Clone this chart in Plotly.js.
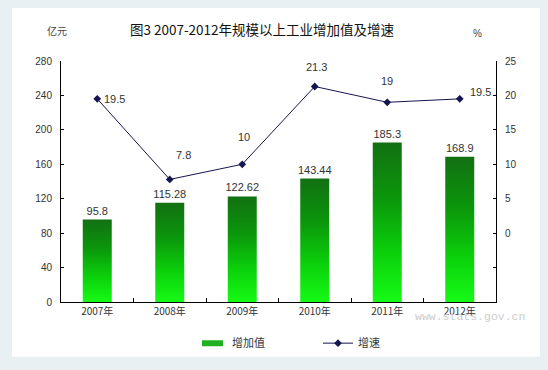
<!DOCTYPE html>
<html>
<head>
<meta charset="utf-8">
<script src="https://cdn.plot.ly/plotly-3.0.1.min.js"></script>
<style>html,body{margin:0;padding:0;background:#e9f0f4;}</style>
</head>
<body>
<div id="chart" style="width:548px;height:370px;"></div>
<script>
// ---- data ----
const years = ['2007年', '2008年', '2009年', '2010年', '2011年', '2012年'];
const addedValue = [95.8, 115.28, 122.62, 143.44, 185.3, 168.9];   // 增加值 (亿元)
const growthRate = [19.5, 7.8, 10, 21.3, 19, 19.5];                // 增速 (%)
const addedValueText = ['95.8', '115.28', '122.62', '143.44', '185.3', '168.9'];
const growthText = ['19.5', '7.8', '10', '21.3', '19', '19.5'];
const leftTicks = [0, 40, 80, 120, 160, 200, 240, 280];
const rightTickVals = [-10, -5, 0, 5, 10, 15, 20, 25];
const rightTickText = ['', '', '0', '5', '10', '15', '20', '25'];

// label offsets for growth labels (styling only)
const gxs = [17, 14, 2, 2, 0, 21];
const gys = [0, 24, 27, 19, 21, 7];

const FONT = 'Arial, "Liberation Sans", "Noto Sans CJK SC", sans-serif';
const CJK = '"Noto Sans CJK SC", "Liberation Sans", sans-serif';

const traces = [
  {
    type: 'bar', name: '增加值', x: years, y: addedValue,
    text: addedValueText, textposition: 'outside', cliponaxis: false,
    constraintext: 'none',
    textfont: {family: FONT, size: 11, color: '#333333'},
    marker: {color: '#22b022', line: {width: 0}},
    width: 0.4, hoverinfo: 'none'
  },
  {
    type: 'scatter', mode: 'lines+markers', name: '增速', x: years, y: growthRate,
    yaxis: 'y2', line: {color: '#15154f', width: 1},
    marker: {symbol: 'diamond', size: 6, color: '#15154f'},
    hoverinfo: 'none'
  }
];

const annotations = growthRate.map((v, i) => ({
  x: years[i], y: v, xref: 'x', yref: 'y2', text: growthText[i],
  showarrow: false, xshift: gxs[i], yshift: gys[i],
  font: {family: FONT, size: 11, color: '#333333'}
}));
annotations.push({
  xref: 'paper', yref: 'paper', x: (57 - 61) / 435, y: (307 - 30) / 246, xanchor: 'center', yanchor: 'middle',
  text: '亿元', showarrow: false, font: {family: CJK, size: 10, color: '#444444'}
});
annotations.push({
  xref: 'paper', yref: 'paper', x: (477 - 61) / 435, y: (307 - 33) / 246, xanchor: 'center', yanchor: 'middle',
  text: '%', showarrow: false, font: {family: FONT, size: 10, color: '#444444'}
});
annotations.push({
  xref: 'paper', yref: 'paper', x: (470 - 61) / 435, y: (307 - 322) / 246, xanchor: 'center', yanchor: 'middle',
  text: 'www.stats.gov.cn', showarrow: false,
  font: {family: '"Liberation Mono", "DejaVu Sans Mono", monospace', size: 11.5, color: '#cccccc'}
});

const layout = {
  width: 548, height: 370,
  margin: {l: 61, r: 52, t: 61, b: 63},
  paper_bgcolor: '#e9f0f4',
  plot_bgcolor: 'rgba(0,0,0,0)',
  font: {family: FONT, size: 10, color: '#333333'},
  title: {
    text: '图3 2007-2012年规模以上工业增加值及增速',
    x: 262 / 548, xref: 'container', xanchor: 'center',
    y: 1 - 30 / 370, yref: 'container', yanchor: 'middle',
    font: {family: CJK, size: 13.5, color: '#111111'}
  },
  showlegend: true,
  legend: {
    orientation: 'h', x: (192 - 61) / 435, xanchor: 'left',
    y: (307 - 349) / 246, yanchor: 'middle',
    entrywidth: 81, entrywidthmode: 'pixels',
    font: {family: CJK, size: 11, color: '#333333'},
    bgcolor: 'rgba(0,0,0,0)'
  },
  bargap: 0.6,
  xaxis: {
    type: 'category', showline: true, linecolor: '#000000', linewidth: 1,
    ticks: 'inside', tickson: 'boundaries', ticklen: 4, tickcolor: '#000000',
    showgrid: false, zeroline: false,
    tickfont: {family: CJK, size: 10, color: '#333333'}
  },
  yaxis: {
    range: [0, 280], tickvals: leftTicks, showline: true, linecolor: '#000000', linewidth: 1,
    ticks: 'inside', ticklen: 3, tickcolor: '#000000', showgrid: false, zeroline: false,
    tickfont: {family: FONT, size: 10, color: '#333333'}, ticklabelstandoff: 6
  },
  yaxis2: {
    overlaying: 'y', side: 'right', range: [-10, 25],
    tickvals: rightTickVals, ticktext: rightTickText,
    showline: true, linecolor: '#000000', linewidth: 1,
    ticks: 'inside', ticklen: 3, tickcolor: '#000000', showgrid: false, zeroline: false,
    tickfont: {family: FONT, size: 10, color: '#333333'}, ticklabelstandoff: 6
  },
  shapes: [{
    type: 'rect', xref: 'paper', yref: 'paper', layer: 'below',
    x0: (12 - 61) / 435, x1: (540 - 61) / 435,
    y0: (307 - 363) / 246, y1: (307 - 7) / 246,
    fillcolor: '#ffffff', line: {width: 0}
  }],
  annotations: annotations
};

Plotly.newPlot('chart', traces, layout, {staticPlot: true, displayModeBar: false}).then(gd => {
  const svg = gd.querySelector('svg.main-svg');
  const NS = 'http://www.w3.org/2000/svg';
  let defs = svg.querySelector('defs');
  if (!defs) { defs = document.createElementNS(NS, 'defs'); svg.insertBefore(defs, svg.firstChild); }
  const grad = document.createElementNS(NS, 'linearGradient');
  grad.setAttribute('id', 'barGrad');
  grad.setAttribute('x1', '0'); grad.setAttribute('y1', '0');
  grad.setAttribute('x2', '0'); grad.setAttribute('y2', '1');
  [['0%', '#127012'], ['35%', '#0b960b'], ['70%', '#0bd20b'], ['100%', '#16fa16']].forEach(([o, c]) => {
    const s = document.createElementNS(NS, 'stop');
    s.setAttribute('offset', o); s.setAttribute('stop-color', c);
    grad.appendChild(s);
  });
  defs.appendChild(grad);
  gd.querySelectorAll('.barlayer .point path').forEach(p => { p.style.fill = 'url(#barGrad)'; });
  // widen bar legend swatch to a flat rectangle like the reference
  gd.querySelectorAll('.legend .legendpoints path.legendundefined, .legend .legendbar path').forEach(p => {
    p.setAttribute('d', 'M-10,3V-3H11V3Z');
  });
});
</script>
</body>
</html>
